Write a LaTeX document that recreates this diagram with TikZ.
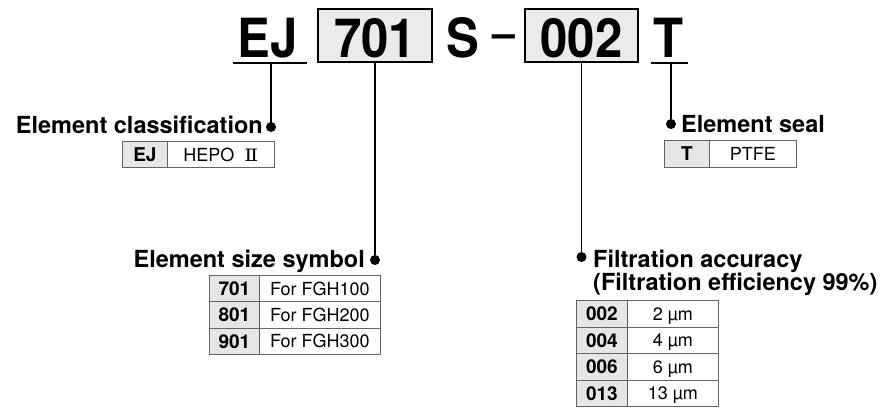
\documentclass[tikz,border=0pt]{standalone}
\usepackage{fontspec}
\setmainfont{TeX Gyre Heros}
\newfontfamily\codefont[FakeStretch=0.91]{TeX Gyre Heros}
\newfontfamily\numfont[FakeStretch=1.2]{DejaVu Serif}
\usetikzlibrary{positioning}
\definecolor{cellgray}{RGB}{230,230,230}
\definecolor{boxgray}{RGB}{235,235,235}
\definecolor{tabline}{RGB}{100,100,100}

\begin{document}
\begin{tikzpicture}[x=1pt,y=-1pt,
	code/.style={font=\codefont\bfseries\fontsize{54}{54}\selectfont,inner sep=0pt,anchor=base},
	codebox/.style={draw,line width=1.4pt,fill=boxgray,inner sep=0pt},
	lead/.style={line width=1.5pt},
	dot/.style={circle,fill,inner sep=0pt,minimum size=10pt},
	title/.style={font=\bfseries\fontsize{23.5}{24}\selectfont,inner sep=0pt},
	keycell/.style={draw=tabline,fill=cellgray,line width=0.8pt,inner sep=0pt,anchor=north west,
		text height=13.7pt,text depth=0pt,font=\bfseries\fontsize{19}{19}\selectfont},
	valcell/.style={draw=tabline,line width=0.8pt,inner sep=0pt,anchor=north west,
		text height=13.2pt,text depth=0pt,font=\fontsize{18}{18}\selectfont}]

	\useasboundingbox (0,0) rectangle (896,408);

	%code boxes
	\node[codebox,minimum width=114pt,minimum height=53pt] (b701) at (375,35.5) {};
	\node[codebox,minimum width=113pt,minimum height=53pt] (b002) at (581.5,35.5) {};

	%model code
	\node[code] (cEJ) at (268,57) {EJ};
	\node[code] (c701) at (375,57) {701};
	\node[code] (cS) at (463,57) {S};
	\node[font=\bfseries\fontsize{41}{41}\selectfont,inner sep=0pt,anchor=base] (cdash) at (504,47.5) {–};
	\node[code] (c002) at (581.5,57) {002};
	\node[code] (cT) at (668.5,57) {T};

	%underlines
	\draw[line width=1.8pt] (233,63) -- (307,63);
	\draw[line width=1.8pt] (651,63) -- (688,63);
	\coordinate (uEJ) at (271,63);
	\coordinate (uT) at (671,63);

	%dots
	\node[dot] (dclass) at (271,127) {};
	\node[dot] (dseal) at (671,124) {};
	\node[dot] (dsize) at (375,260) {};
	\node[dot] (dfilt) at (581.5,257) {};

	%leads
	\draw[lead] (uEJ) -- (dclass.center);
	\draw[lead] (uT) -- (dseal.center);
	\draw[lead] (b701.south) -- (dsize.center);
	\draw[lead] (b002.south) -- (dfilt.center);

	%titles
	\node[title,anchor=base east] (lclass) at (263,133) {Element classification};
	\node[title,anchor=base west] (lseal) at (681,132) {Element seal};
	\node[title,anchor=base east] (lsize) at (365,267) {Element size symbol};
	\node[title,anchor=base west] (lfilt) at (593,267) {Filtration accuracy};
	\node[title,anchor=base west] (lfilt2) at (593,290) {(Filtration efficiency 99\%)};

	%element classification
	\node[keycell,minimum width=45pt,minimum height=26pt] (kEJ) at (122,141) {EJ};
	\node[valcell,minimum width=107pt,minimum height=26pt] (vEJ) at (167,141) {HEPO\ \ {\numfont\fontsize{17}{17}\selectfont Ⅱ}};

	%element seal
	\node[keycell,minimum width=45pt,minimum height=27pt] (kT) at (664,140) {T};
	\node[valcell,minimum width=87pt,minimum height=27pt] (vT) at (709,140) {PTFE};

	%element size symbol
	\foreach \k/\v [count=\i from 0] in {701/For FGH100,801/For FGH200,901/For FGH300} {
		\node[keycell,minimum width=50pt,minimum height=26.3pt] (sk\k) at (209,{275+26.3*\i}) {\k};
		\node[valcell,minimum width=121pt,minimum height=26.3pt] (sv\k) at (259,{275+26.3*\i}) {\v};
	}

	%filtration accuracy
	\foreach \k/\v [count=\i from 0] in {002/2,004/4,006/6,013/13} {
		\node[keycell,minimum width=51pt,minimum height=26.5pt] (fk\k) at (576,{300+26.5*\i}) {\k};
		\node[valcell,minimum width=91pt,minimum height=26.5pt] (fv\k) at (627,{300+26.5*\i}) {\v\ µm};
	}

\end{tikzpicture}
\end{document}
